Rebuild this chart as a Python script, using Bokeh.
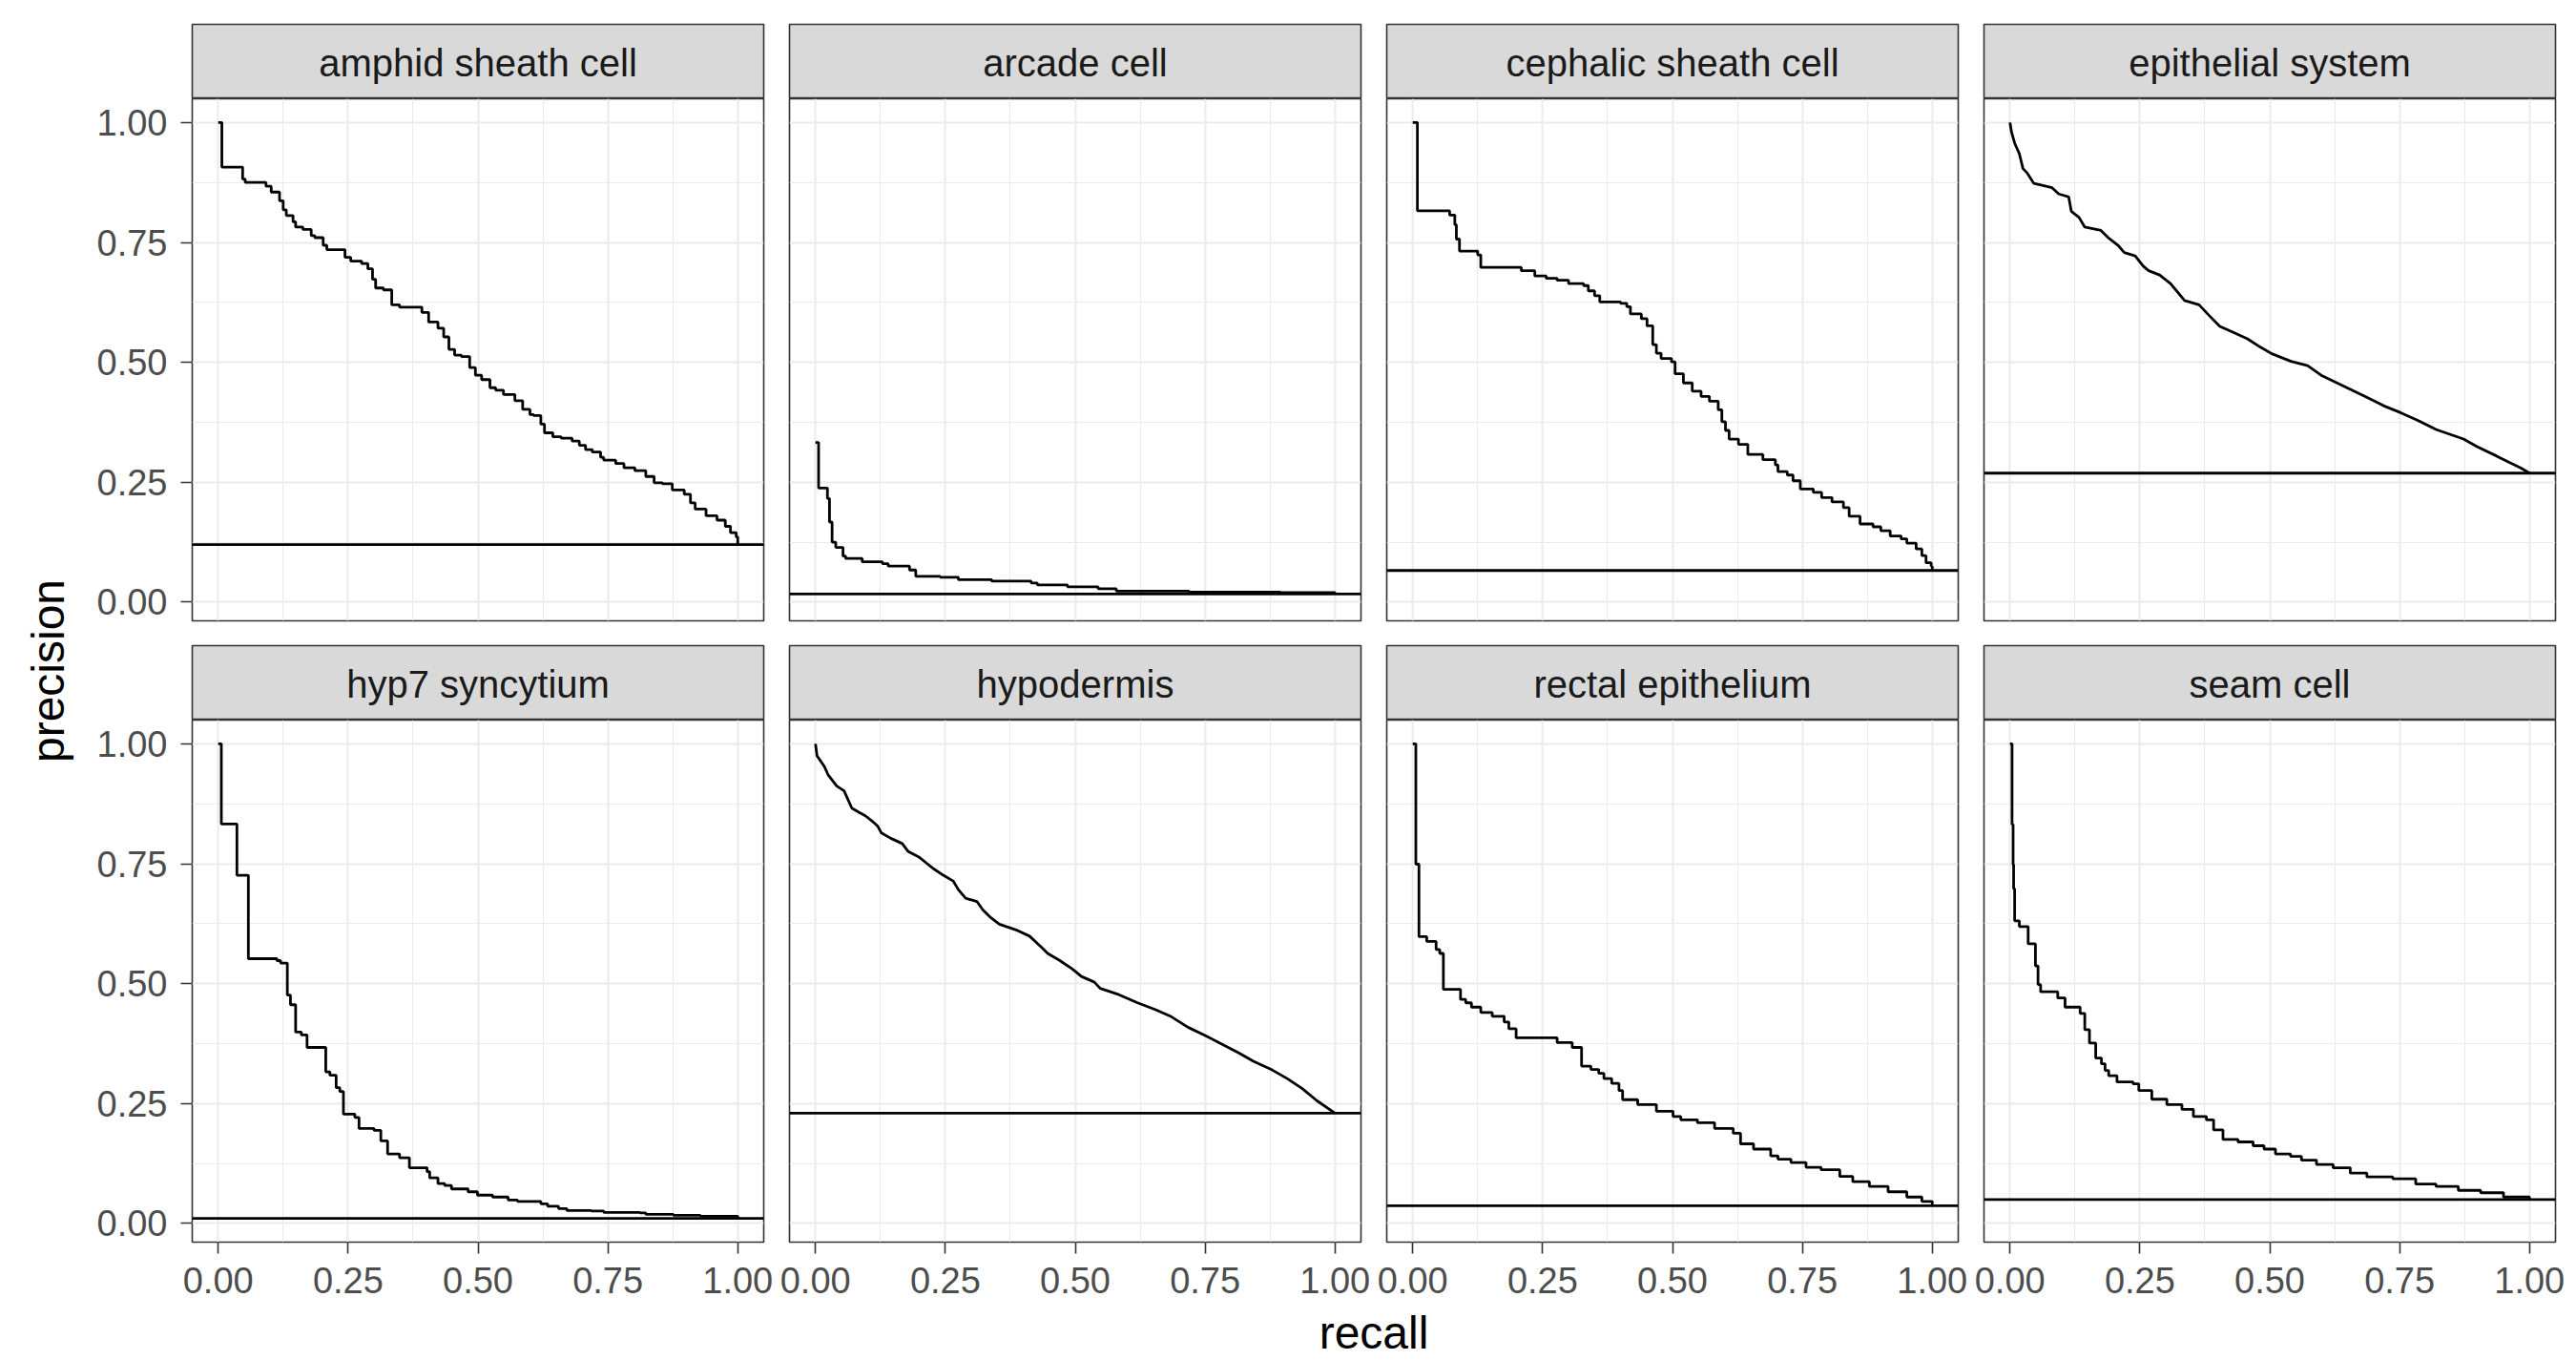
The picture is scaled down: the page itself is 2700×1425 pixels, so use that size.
import math
from bokeh.plotting import figure
from bokeh.models import Range1d, FixedTicker, Grid, LinearAxis, Span, PrintfTickFormatter
from bokeh.layouts import row, column
from bokeh.core.properties import value
from bokeh.embed import file_html
from bokeh.resources import INLINE

# ---------------- data ----------------
panel_names = ["amphid sheath cell", "arcade cell", "cephalic sheath cell", "epithelial system",
               "hyp7 syncytium", "hypodermis", "rectal epithelium", "seam cell"]

x_ticks = [0.0, 0.25, 0.5, 0.75, 1.0]
x_minor = [0.125, 0.375, 0.625, 0.875]
y_ticks = [0.0, 0.25, 0.5, 0.75, 1.0]
y_minor = [0.125, 0.375, 0.625, 0.875]

amphid_recall = [0, 0.007, 0.047, 0.052, 0.092, 0.102, 0.118, 0.125, 0.131, 0.144, 0.149, 0.163, 0.179,
                 0.186, 0.202, 0.209, 0.244, 0.255, 0.276, 0.288, 0.297, 0.303, 0.318, 0.334, 0.349, 0.392,
                 0.405, 0.423, 0.434, 0.444, 0.455, 0.468, 0.484, 0.495, 0.507, 0.523, 0.534, 0.549, 0.571,
                 0.586, 0.600, 0.607, 0.621, 0.628, 0.644, 0.660, 0.681, 0.695, 0.707, 0.720, 0.736, 0.742,
                 0.765, 0.781, 0.802, 0.823, 0.839, 0.855, 0.874, 0.897, 0.909, 0.918, 0.939, 0.960, 0.976,
                 0.986, 0.997, 1.0]
amphid_precision = [1.0, 0.907, 0.882, 0.875, 0.867, 0.855, 0.837, 0.818, 0.806, 0.793, 0.782, 0.777, 0.764,
                    0.760, 0.744, 0.735, 0.719, 0.711, 0.706, 0.695, 0.673, 0.655, 0.651, 0.620, 0.615, 0.604,
                    0.584, 0.571, 0.553, 0.527, 0.515, 0.512, 0.489, 0.473, 0.464, 0.447, 0.442, 0.433, 0.420,
                    0.402, 0.391, 0.389, 0.371, 0.353, 0.345, 0.342, 0.336, 0.327, 0.318, 0.313, 0.302, 0.296,
                    0.289, 0.280, 0.274, 0.262, 0.249, 0.247, 0.234, 0.225, 0.207, 0.194, 0.180, 0.171, 0.158,
                    0.145, 0.136, 0.120]
amphid_baseline = 0.120

arcade_recall = [0.0, 0.006, 0.023, 0.027, 0.032, 0.039, 0.053, 0.058, 0.090, 0.129, 0.140, 0.181, 0.193,
                 0.240, 0.275, 0.339, 0.415, 0.427, 0.485, 0.544, 0.579, 0.719, 0.895, 1.0]
arcade_precision = [0.333, 0.238, 0.216, 0.167, 0.125, 0.114, 0.096, 0.091, 0.084, 0.080, 0.075, 0.067, 0.054,
                    0.052, 0.047, 0.044, 0.040, 0.036, 0.032, 0.028, 0.023, 0.021, 0.020, 0.017]
arcade_baseline = 0.017

cephalic_recall = [0, 0.009, 0.071, 0.081, 0.084, 0.090, 0.125, 0.131, 0.209, 0.235, 0.257, 0.278, 0.300,
                   0.329, 0.338, 0.350, 0.360, 0.400, 0.412, 0.419, 0.440, 0.451, 0.462, 0.469, 0.478, 0.498,
                   0.505, 0.521, 0.538, 0.555, 0.571, 0.588, 0.595, 0.602, 0.609, 0.627, 0.645, 0.674, 0.698,
                   0.703, 0.721, 0.732, 0.746, 0.771, 0.787, 0.807, 0.829, 0.840, 0.861, 0.886, 0.901, 0.919,
                   0.940, 0.951, 0.969, 0.980, 0.988, 0.998, 1.0]
cephalic_precision = [1.0, 0.816, 0.807, 0.787, 0.757, 0.732, 0.724, 0.698, 0.691, 0.680, 0.675, 0.671, 0.664,
                      0.660, 0.649, 0.639, 0.626, 0.623, 0.616, 0.601, 0.591, 0.576, 0.537, 0.519, 0.508, 0.501,
                      0.476, 0.457, 0.440, 0.429, 0.419, 0.401, 0.376, 0.358, 0.340, 0.329, 0.308, 0.297, 0.286,
                      0.272, 0.265, 0.253, 0.236, 0.229, 0.218, 0.209, 0.197, 0.179, 0.163, 0.157, 0.149, 0.138,
                      0.132, 0.123, 0.111, 0.097, 0.082, 0.075, 0.066]
cephalic_baseline = 0.066

epithelial_recall = [0, 0.003, 0.009, 0.018, 0.025, 0.033, 0.046, 0.081, 0.094, 0.113, 0.118, 0.133, 0.144,
                     0.175, 0.191, 0.208, 0.220, 0.241, 0.257, 0.267, 0.288, 0.309, 0.336, 0.364, 0.383, 0.404,
                     0.431, 0.457, 0.483, 0.504, 0.541, 0.573, 0.599, 0.641, 0.683, 0.720, 0.752, 0.783, 0.820,
                     0.873, 0.899, 0.936, 0.962, 0.983, 1.0]
epithelial_precision = [1.0, 0.980, 0.957, 0.935, 0.904, 0.895, 0.873, 0.864, 0.851, 0.845, 0.815, 0.802,
                        0.782, 0.775, 0.758, 0.744, 0.729, 0.722, 0.700, 0.691, 0.682, 0.664, 0.629, 0.620,
                        0.598, 0.575, 0.562, 0.549, 0.531, 0.518, 0.502, 0.493, 0.473, 0.451, 0.429, 0.409,
                        0.395, 0.380, 0.360, 0.340, 0.324, 0.305, 0.291, 0.280, 0.269]
epithelial_baseline = 0.269

hyp7_recall = [0, 0.006, 0.036, 0.058, 0.113, 0.120, 0.133, 0.139, 0.149, 0.160, 0.171, 0.207, 0.215, 0.227,
               0.234, 0.241, 0.263, 0.271, 0.300, 0.313, 0.326, 0.349, 0.368, 0.402, 0.407, 0.423, 0.436, 0.449,
               0.481, 0.499, 0.528, 0.558, 0.576, 0.621, 0.634, 0.655, 0.671, 0.718, 0.742, 0.812, 0.823, 0.876,
               0.928, 1.0]
hyp7_precision = [1.0, 0.833, 0.726, 0.552, 0.548, 0.543, 0.476, 0.456, 0.399, 0.393, 0.367, 0.316, 0.309,
                  0.283, 0.275, 0.228, 0.221, 0.198, 0.194, 0.172, 0.145, 0.137, 0.116, 0.108, 0.095, 0.083,
                  0.079, 0.072, 0.066, 0.059, 0.055, 0.049, 0.046, 0.041, 0.036, 0.031, 0.027, 0.026, 0.023,
                  0.022, 0.019, 0.017, 0.015, 0.0105]
hyp7_baseline = 0.0105

hypodermis_recall = [0, 0.003, 0.017, 0.024, 0.041, 0.055, 0.070, 0.084, 0.096, 0.109, 0.120, 0.127, 0.145,
                     0.167, 0.178, 0.199, 0.214, 0.228, 0.246, 0.265, 0.275, 0.289, 0.311, 0.322, 0.336, 0.354,
                     0.386, 0.412, 0.433, 0.447, 0.469, 0.494, 0.512, 0.537, 0.548, 0.584, 0.620, 0.656, 0.685,
                     0.717, 0.750, 0.782, 0.814, 0.843, 0.879, 0.908, 0.937, 0.965, 1.0]
hypodermis_precision = [1.0, 0.975, 0.953, 0.936, 0.912, 0.902, 0.866, 0.857, 0.850, 0.839, 0.828, 0.814,
                        0.803, 0.792, 0.776, 0.764, 0.751, 0.739, 0.726, 0.714, 0.696, 0.678, 0.671, 0.654,
                        0.639, 0.624, 0.612, 0.599, 0.578, 0.563, 0.549, 0.531, 0.515, 0.503, 0.490, 0.477,
                        0.460, 0.445, 0.431, 0.409, 0.392, 0.374, 0.356, 0.338, 0.320, 0.302, 0.281, 0.256,
                        0.230]
hypodermis_baseline = 0.230

rectal_recall = [0, 0.006, 0.012, 0.027, 0.045, 0.052, 0.059, 0.092, 0.102, 0.113, 0.131, 0.153, 0.176, 0.185,
                 0.199, 0.278, 0.307, 0.325, 0.343, 0.358, 0.368, 0.383, 0.397, 0.404, 0.433, 0.469, 0.501,
                 0.516, 0.548, 0.581, 0.617, 0.631, 0.656, 0.689, 0.703, 0.728, 0.757, 0.786, 0.822, 0.847,
                 0.879, 0.915, 0.951, 0.980, 1.0]
rectal_precision = [1.0, 0.749, 0.598, 0.588, 0.571, 0.563, 0.488, 0.467, 0.460, 0.451, 0.440, 0.432, 0.420,
                    0.406, 0.387, 0.377, 0.367, 0.328, 0.321, 0.313, 0.302, 0.292, 0.277, 0.258, 0.248, 0.234,
                    0.223, 0.216, 0.210, 0.198, 0.188, 0.166, 0.155, 0.141, 0.134, 0.127, 0.117, 0.112, 0.098,
                    0.087, 0.077, 0.066, 0.055, 0.046, 0.037]
rectal_baseline = 0.037

seam_recall = [0, 0.004, 0.006, 0.007, 0.009, 0.018, 0.035, 0.049, 0.054, 0.059, 0.092, 0.106, 0.135, 0.144,
               0.153, 0.165, 0.176, 0.183, 0.190, 0.206, 0.237, 0.248, 0.273, 0.302, 0.331, 0.353, 0.378, 0.392,
               0.410, 0.439, 0.468, 0.489, 0.511, 0.540, 0.561, 0.590, 0.622, 0.655, 0.687, 0.737, 0.781, 0.820,
               0.863, 0.906, 0.950, 1.0]
seam_precision = [1.0, 0.832, 0.748, 0.698, 0.631, 0.619, 0.583, 0.537, 0.498, 0.483, 0.470, 0.451, 0.438,
                  0.404, 0.376, 0.345, 0.333, 0.319, 0.308, 0.295, 0.291, 0.277, 0.259, 0.248, 0.238, 0.223,
                  0.216, 0.195, 0.175, 0.170, 0.162, 0.155, 0.145, 0.140, 0.132, 0.123, 0.116, 0.105, 0.097,
                  0.093, 0.082, 0.077, 0.069, 0.064, 0.055, 0.050]
seam_baseline = 0.050

recalls = [amphid_recall, arcade_recall, cephalic_recall, epithelial_recall,
           hyp7_recall, hypodermis_recall, rectal_recall, seam_recall]
precisions = [amphid_precision, arcade_precision, cephalic_precision, epithelial_precision,
              hyp7_precision, hypodermis_precision, rectal_precision, seam_precision]
baselines = [amphid_baseline, arcade_baseline, cephalic_baseline, epithelial_baseline,
             hyp7_baseline, hypodermis_baseline, rectal_baseline, seam_baseline]
draw_as_steps = [True, True, True, False, True, False, True, True]

# ---------------- shared (fixed) scales, ggplot-like 5% expansion ----------------
all_x = [v for r in recalls for v in r]
all_y = [v for pr in precisions for v in pr] + baselines
xmin, xmax = min(all_x), max(all_x)
ymin, ymax = min(all_y), max(all_y)
xpad = 0.05 * (xmax - xmin)
ypad = 0.05 * (ymax - ymin)

# ---------------- styling / layout constants ----------------
FONT = "Liberation Sans"
TICK_FS = "38px"
STRIP_FS = "40px"
TITLE_FS = "48px"
GRID_COL = "#EBEBEB"
BORDER_COL = "#333333"
LINE_W = 2.8

YLAB_W = 88
COL_W = [726, 626, 626, 626]
COL_BL = [113, 13, 13, 13]
COL_BR = [14, 14, 14, 14]
PANEL_H = 547
ROW1_BB = 13
XAX_H = 70
STRIP_H1, STRIP_T1 = 103, 25
STRIP_H2, STRIP_T2 = 91, 13
XLAB_H = 52
TOTAL_H = STRIP_H1 + PANEL_H + ROW1_BB + STRIP_H2 + PANEL_H + XAX_H + XLAB_H

common = dict(output_backend="svg", toolbar_location=None, title=None,
              x_axis_type=None, y_axis_type=None, border_fill_color="white")


def make_strip(name, c, h, top):
    s = figure(width=COL_W[c], height=h, x_range=Range1d(0, 1), y_range=Range1d(0, 1),
               min_border_left=COL_BL[c], min_border_right=COL_BR[c], min_border_top=top,
               min_border_bottom=0, background_fill_color="#D9D9D9",
               outline_line_color=BORDER_COL, outline_line_width=1.6, **common)
    s.text(x=[0.5], y=[0.48], text=[name], text_align="center", text_baseline="alphabetic",
           text_font=value(FONT), text_font_size=STRIP_FS, text_color="#1A1A1A")
    return s


def make_panel(i, c, bottom_row):
    bb = XAX_H if bottom_row else ROW1_BB
    p = figure(width=COL_W[c], height=PANEL_H + bb,
               x_range=Range1d(xmin - xpad, xmax + xpad), y_range=Range1d(ymin - ypad, ymax + ypad),
               min_border_left=COL_BL[c], min_border_right=COL_BR[c], min_border_top=0,
               min_border_bottom=bb, background_fill_color="white",
               outline_line_color=BORDER_COL, outline_line_width=1.6, **common)
    p.add_layout(Grid(dimension=0, ticker=FixedTicker(ticks=x_ticks, minor_ticks=x_minor),
                      grid_line_color=GRID_COL, grid_line_width=2,
                      minor_grid_line_color=GRID_COL, minor_grid_line_width=1))
    p.add_layout(Grid(dimension=1, ticker=FixedTicker(ticks=y_ticks, minor_ticks=y_minor),
                      grid_line_color=GRID_COL, grid_line_width=2,
                      minor_grid_line_color=GRID_COL, minor_grid_line_width=1))
    if draw_as_steps[i]:
        p.step(recalls[i], precisions[i], mode="after", line_color="black", line_width=LINE_W)
    else:
        p.line(recalls[i], precisions[i], line_color="black", line_width=LINE_W)
    p.add_layout(Span(location=baselines[i], dimension="width", line_color="black", line_width=LINE_W))

    axis_style = dict(axis_line_color=None, major_tick_line_color=BORDER_COL, major_tick_line_width=1.6,
                      major_tick_in=0, major_tick_out=12, minor_tick_line_color=None,
                      major_label_text_font=FONT, major_label_text_font_size=TICK_FS,
                      major_label_text_color="#4D4D4D", formatter=PrintfTickFormatter(format="%.2f"))
    if c == 0:
        ya = LinearAxis(ticker=FixedTicker(ticks=y_ticks), major_label_standoff=14, **axis_style)
        p.add_layout(ya, "left")
    if bottom_row:
        xa = LinearAxis(ticker=FixedTicker(ticks=x_ticks), major_label_standoff=14, **axis_style)
        p.add_layout(xa, "below")
    return p


strips1 = [make_strip(panel_names[c], c, STRIP_H1, STRIP_T1) for c in range(4)]
panels1 = [make_panel(c, c, False) for c in range(4)]
strips2 = [make_strip(panel_names[4 + c], c, STRIP_H2, STRIP_T2) for c in range(4)]
panels2 = [make_panel(4 + c, c, True) for c in range(4)]

# x-axis title
inner_w = sum(COL_W)
xl = figure(width=inner_w, height=XLAB_H, x_range=Range1d(0, inner_w), y_range=Range1d(0, XLAB_H),
            min_border=0, outline_line_color=None, background_fill_color="white", **common)
panels_center = (COL_BL[0] + inner_w - COL_BR[3]) / 2.0
xl.text(x=[panels_center], y=[27], text=["recall"], text_align="center", text_baseline="alphabetic",
        text_font=value(FONT), text_font_size=TITLE_FS, text_color="black")

# y-axis title
yl = figure(width=YLAB_W, height=TOTAL_H, x_range=Range1d(0, YLAB_W), y_range=Range1d(0, TOTAL_H),
            min_border=0, outline_line_color=None, background_fill_color="white", **common)
yl.text(x=[49.5], y=[TOTAL_H - 702.5], text=["precision"], angle=math.pi / 2, text_align="center",
        text_baseline="alphabetic", text_font=value(FONT), text_font_size=TITLE_FS, text_color="black")

grid_col = column(row(*strips1), row(*panels1), row(*strips2), row(*panels2), xl)
root = row(yl, grid_col)

open("out.html", "w").write(file_html(root, INLINE))
